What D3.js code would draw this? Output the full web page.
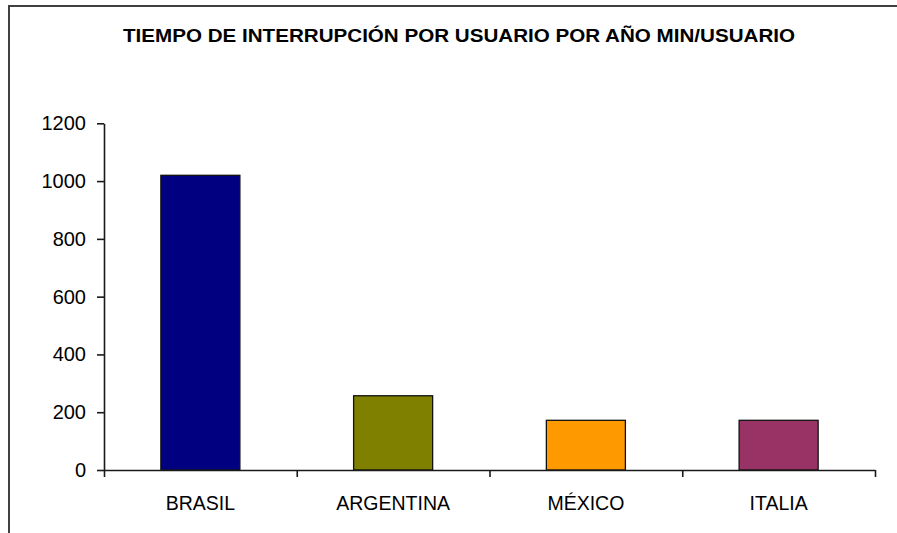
<!DOCTYPE html>
<html>
<head>
<meta charset="utf-8">
<script src="https://cdn.jsdelivr.net/npm/d3@7/dist/d3.min.js"></script>
<style>
  html, body { margin: 0; padding: 0; background: #fff; }
  svg { display: block; }
  text { font-family: "Liberation Sans", Arial, sans-serif; fill: #000; }
</style>
</head>
<body>
<script>
const categories = ["BRASIL", "ARGENTINA", "MÉXICO", "ITALIA"];
const values = [1020, 257, 172, 172];
const colors = ["#000080", "#808000", "#FF9900", "#993366"];
const yTicks = [0, 200, 400, 600, 800, 1000, 1200];
const title = "TIEMPO DE INTERRUPCIÓN POR USUARIO POR AÑO MIN/USUARIO";

(function () {
const W = 897, H = 533;
const svg = d3.select("body").append("svg").attr("width", W).attr("height", H);

// outer chart border (extends past right/bottom edges)
svg.append("rect")
  .attr("x", 9).attr("y", 6).attr("width", 900).attr("height", 540)
  .attr("fill", "#fff").attr("stroke", "#404040").attr("stroke-width", 2);

// title
svg.append("text")
  .attr("x", 459).attr("y", 42)
  .attr("text-anchor", "middle")
  .attr("font-size", 19).attr("font-weight", "bold")
  .attr("textLength", 672).attr("lengthAdjust", "spacingAndGlyphs")
  .text(title);

const mLeft = 104, mRight = 875, mTop = 123.3, mBottom = 470;

const y = d3.scaleLinear().domain([0, 1200]).range([mBottom, mTop]);
const x = d3.scaleBand().domain(categories).range([mLeft, mRight])
  .paddingInner(0.59).paddingOuter(0.295);

// bars
svg.append("g").selectAll("rect").data(categories).join("rect")
  .attr("x", d => x(d))
  .attr("y", (d, i) => y(values[i]))
  .attr("width", x.bandwidth())
  .attr("height", (d, i) => y(0) - y(values[i]))
  .attr("fill", (d, i) => colors[i])
  .attr("stroke", "#111").attr("stroke-width", 1.3);

// y axis
const yAxis = svg.append("g").attr("transform", `translate(${mLeft},0)`)
  .call(d3.axisLeft(y).tickValues(yTicks).tickFormat(d3.format("d"))
    .tickSize(7).tickPadding(11).tickSizeOuter(0));
yAxis.selectAll("text").attr("font-size", 20).style("font-family", "'Liberation Sans', Arial, sans-serif").attr("fill", "#000");

// x axis boundary ticks
const xIdx = d3.scaleLinear().domain([0, categories.length]).range([mLeft, mRight]);
svg.append("g").attr("transform", `translate(0,${mBottom})`)
  .call(d3.axisBottom(xIdx).tickValues(d3.range(categories.length + 1)).tickFormat("").tickSize(7).tickSizeOuter(0));

// category labels
const xLab = svg.append("g").attr("transform", `translate(0,${mBottom})`)
  .call(d3.axisBottom(x).tickSize(0).tickPadding(26));
xLab.select(".domain").remove();
xLab.selectAll("text").attr("font-size", 19.5).style("font-family", "'Liberation Sans', Arial, sans-serif").attr("fill", "#000");

svg.selectAll(".domain, .tick line").attr("stroke", "#1a1a1a").attr("stroke-width", 1.6);
})();
</script>
</body>
</html>
